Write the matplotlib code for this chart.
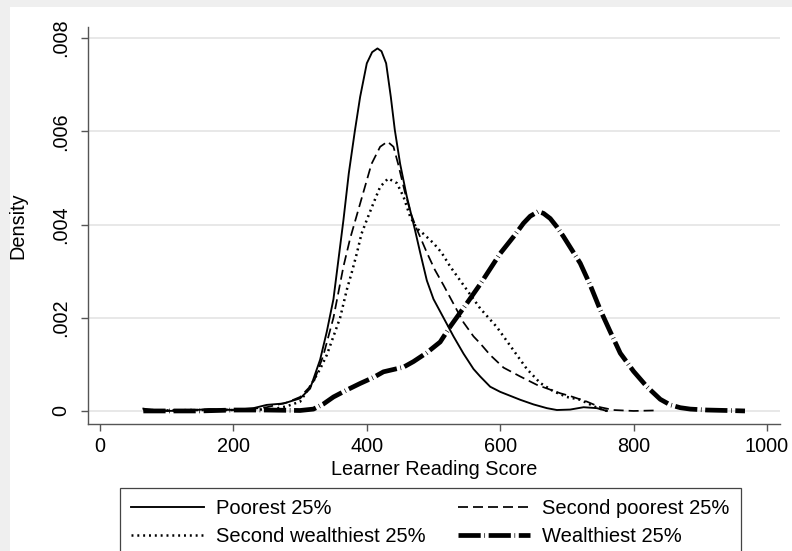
import matplotlib
matplotlib.use('Agg')
import matplotlib.pyplot as plt
from matplotlib.patches import Rectangle

plt.rcParams['font.family'] = ['Liberation Sans', 'DejaVu Sans']
plt.rcParams['lines.scale_dashes'] = False

# ---------------- data ----------------
poorest_x = [65, 80, 100, 130, 165, 200, 230, 250, 275, 300, 315, 330, 340, 350, 365, 373, 382,
             390, 400, 408, 416, 422, 429, 436, 442, 450, 460, 472, 480, 490, 500, 515, 530, 545,
             560, 570, 585, 600, 630, 650, 670, 685, 705, 725, 745, 760]
poorest_y = [0.00005, 0.00001, 0.0, 0.00001, 0.00004, 0.00002, 0.00006, 0.00013, 0.00016, 0.00027,
             0.00048, 0.0011, 0.0017, 0.0024, 0.0041, 0.0051, 0.0060, 0.00674, 0.00746, 0.0077,
             0.00778, 0.00772, 0.00746, 0.00674, 0.00603, 0.0053, 0.0046, 0.0039, 0.0034, 0.0028,
             0.0024, 0.0020, 0.0016, 0.00123, 0.0009, 0.00074, 0.00052, 0.00041, 0.00024, 0.00014,
             0.00006, 0.00002, 0.00003, 0.00008, 0.00006, 0.0]

second_poorest_x = [65, 100, 140, 180, 220, 250, 280, 300, 320, 335, 350, 365, 375, 387, 397, 407,
                    420, 431, 440, 447, 457, 467, 475, 490, 502, 515, 530, 545, 560, 570, 585, 605,
                    630, 655, 690, 705, 730, 750, 770, 800, 830]
second_poorest_y = [0.00004, 0.00001, 0.00002, 0.00003, 0.00003, 0.00008, 0.00018, 0.0003, 0.0006,
                    0.0012, 0.002, 0.0031, 0.0037, 0.0043, 0.0048, 0.0053, 0.00567, 0.00578,
                    0.00567, 0.0053, 0.0047, 0.0042, 0.0039, 0.0034, 0.00303, 0.0027, 0.0023,
                    0.0019, 0.0016, 0.00145, 0.0012, 0.00093, 0.00074, 0.00056, 0.00038, 0.00032,
                    0.0002, 0.00008, 0.00002, 0.0, 0.00001]

second_wealthiest_x = [65, 100, 140, 180, 220, 260, 280, 300, 316, 330, 340, 350, 360, 370, 378,
                       385, 392, 400, 410, 420, 432, 445, 455, 465, 475, 485, 500, 512, 525, 550,
                       570, 595, 620, 640, 660, 680, 700, 720, 745, 760]
second_wealthiest_y = [0.00002, 0.00001, 0.00002, 0.00002, 0.00002, 0.00004, 0.0001, 0.0002,
                       0.00055, 0.0009, 0.0012, 0.0016, 0.0020, 0.0026, 0.0030, 0.00338, 0.0038,
                       0.0041, 0.00446, 0.00481, 0.00499, 0.00489, 0.0046, 0.00417, 0.00392,
                       0.0038, 0.0036, 0.0034, 0.0031, 0.0026, 0.0022, 0.0018, 0.0013, 0.0009,
                       0.0006, 0.00042, 0.0003, 0.00024, 0.00007, 0.0]

wealthiest_x = [65, 100, 150, 200, 250, 300, 320, 335, 350, 370, 390, 410, 425, 440, 455, 470,
                490, 510, 525, 550, 570, 585, 600, 620, 635, 645, 657, 665, 675, 685, 695, 720,
                735, 750, 765, 780, 800, 820, 840, 855, 870, 885, 910, 940, 967]
wealthiest_y = [0.0, 0.0, 0.0, 0.00002, 0.00002, 0.00001, 0.00004, 0.00015, 0.0003, 0.00045,
                0.00059, 0.00072, 0.00084, 0.00089, 0.00094, 0.00106, 0.00125, 0.00148, 0.00181,
                0.00231, 0.00272, 0.00305, 0.00338, 0.00374, 0.00403, 0.00418, 0.00428, 0.00424,
                0.00413, 0.00395, 0.00374, 0.00317, 0.0027, 0.00217, 0.0017, 0.00124, 0.00085,
                0.00052, 0.00025, 0.00013, 0.00007, 0.00004, 0.00002, 0.00001, 0.0]

series_labels = ['Poorest 25%', 'Second poorest 25%', 'Second wealthiest 25%', 'Wealthiest 25%']
x_ticks = [0, 200, 400, 600, 800, 1000]
y_ticks = [0, 0.002, 0.004, 0.006, 0.008]
y_tick_labels = ['0', '.002', '.004', '.006', '.008']

# ---------------- figure ----------------
W, H = 792, 551
fig = plt.figure(figsize=(W / 100, H / 100), dpi=100)
fig.patch.set_facecolor('#EFEFEF')
fig.patches.append(Rectangle((10 / W, 0), 1 - 10 / W, 1 - 7 / H, transform=fig.transFigure,
                             facecolor='white', edgecolor='none', zorder=-10))

ax = fig.add_axes([88 / W, 1 - 424 / H, (780 - 88) / W, (424 - 27) / H])
ax.set_facecolor('white')

l1, = ax.plot(poorest_x, poorest_y, color='black', lw=1.35, label=series_labels[0])
l2, = ax.plot(second_poorest_x, second_poorest_y, color='black', lw=1.25,
              dashes=(7.2, 3.6), label=series_labels[1])
l3, = ax.plot(second_wealthiest_x, second_wealthiest_y, color='black', lw=1.8,
              dashes=(1.4, 2.8), label=series_labels[2])
l4, = ax.plot(wealthiest_x, wealthiest_y, color='black', lw=3.4,
              dashes=(16, 2.6, 0.5, 2.6), dash_capstyle='butt', label=series_labels[3])

ax.set_xlim(-18, 1019.5)
ax.set_ylim(-0.00028, 0.00824)
ax.set_xticks(x_ticks)
ax.set_xticklabels([str(t) for t in x_ticks])
ax.set_yticks(y_ticks)
ax.set_yticklabels(y_tick_labels, rotation=90, va='center')

ax.yaxis.grid(True, color='#E6E6E6', lw=1.3)
ax.set_axisbelow(True)
for s in ['top', 'right']:
    ax.spines[s].set_visible(False)
for s in ['left', 'bottom']:
    ax.spines[s].set_color('#555555')
    ax.spines[s].set_linewidth(1.0)

ax.tick_params(axis='both', direction='out', length=5, width=1, color='#555555',
               labelsize=14.3, labelcolor='black')
ax.tick_params(axis='x', pad=4)
ax.tick_params(axis='y', pad=8)

ax.set_xlabel('Learner Reading Score', fontsize=14.3, labelpad=3)
ax.set_ylabel('Density', fontsize=14.3, labelpad=17)

leg = fig.legend([l1, l3, l2, l4],
                 [series_labels[0], series_labels[2], series_labels[1], series_labels[3]],
                 ncol=2, loc='upper left', bbox_to_anchor=(120 / W, 1 - 488 / H),
                 bbox_transform=fig.transFigure, borderaxespad=0, fontsize=14.5,
                 frameon=True, fancybox=False, shadow=False, framealpha=1,
                 handlelength=3.6, handletextpad=0.6, columnspacing=1.6,
                 labelspacing=0.45, borderpad=0.55)
leg.get_frame().set_edgecolor('#444444')
leg.get_frame().set_linewidth(0.9)

fig.savefig('out.png', dpi=100, facecolor=fig.get_facecolor())
